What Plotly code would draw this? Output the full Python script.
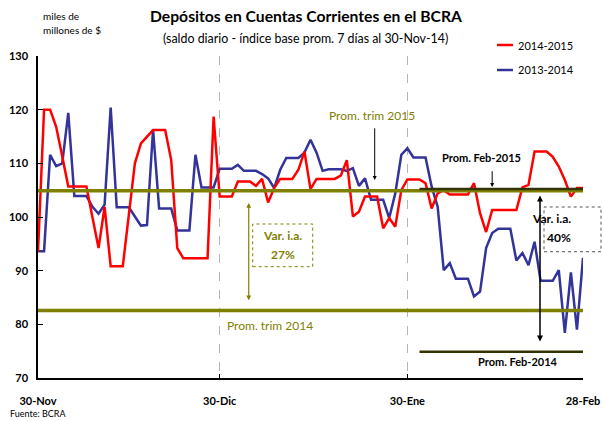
import plotly.graph_objects as go
import pandas as pd

# ---------------- data ----------------
dates = pd.date_range("2014-11-30", "2015-02-28", freq="D")

dep_2014_2015 = [
    93.5, 120, 120, 116.8, 111.3, 105.7, 105.7, 105.7, 105.7, 99.9,
    94.2, 101.9, 90.8, 90.8, 90.8, 100.4, 110, 113.7, 115, 116.2,
    116.2, 116.2, 110.6, 94.2, 92.3, 92.3, 92.3, 92.3, 92.3, 118.7,
    103.8, 103.8, 103.8, 106.6, 106.6, 106.6, 105.8, 107.1, 102.7, 105.4,
    107.1, 107.1, 107.1, 108.8, 112.2, 105.2, 107.1, 107.1, 107.1, 107.1,
    107.7, 110.6, 100.1, 101, 103.8, 103.8, 103.8, 97.9, 99.8, 98.2,
    105, 107, 107, 107, 106.3, 101.6, 104.4, 105, 104.2, 104.2,
    104.2, 104.2, 106.3, 100.7, 97.2, 101.3, 101.3, 101.3, 101.3, 101.3,
    105.5, 106, 112.2, 112.2, 112.2, 111.2, 109.4, 106.9, 103.8, 105.4,
    105.4,
]

dep_2013_2014 = [
    93.6, 93.6, 111.6, 109.5, 110, 119.4, 103.9, 103.9, 103.9, 101.9,
    100.6, 102.3, 120.4, 101.8, 101.8, 101.8, 100.1, 98.4, 98.5, 116.3,
    101.6, 101.6, 101.6, 97.5, 97.5, 97.5, 111.6, 105.5, 105.5, 105.5,
    109, 109, 109, 109.7, 108.6, 108.6, 108.6, 108, 107.2, 105.4,
    108.8, 111, 111, 111, 112, 114.4, 112, 108.6, 108.9, 108.9,
    108.9, 108.6, 109.1, 105.8, 107.2, 103.2, 103.2, 103.2, 99.8, 104.4,
    111.6, 112.8, 111.1, 111.1, 111.1, 105.7, 101.9, 90.1, 91.4, 88.5,
    88.5, 88.5, 85.2, 86.1, 94.2, 97, 97.8, 97.8, 97.8, 91.9,
    93.3, 91, 95.4, 88.1, 88.1, 88.1, 90.1, 78.4, 89.7, 79,
    92.4,
]

series_names = ["2014-2015", "2013-2014"]

prom_trim_2015 = 104.9
prom_trim_2014 = 82.6
prom_feb_2015 = 105.2
prom_feb_2014 = 74.9
feb_start = "2015-02-01"

var_ia_trim = "27%"
var_ia_feb = "40%"

tick_dates = ["2014-11-30", "2014-12-30", "2015-01-30", "2015-02-28"]
tick_labels = ["30-Nov", "30-Dic", "30-Ene", "28-Feb"]
y_ticks = [70, 80, 90, 100, 110, 120, 130]

# ---------------- styling ----------------
RED = "#FF0000"
BLUE = "#333399"
OLIVE = "#808000"
DARK = "#333300"
FONT = "Lato"

start = pd.Timestamp("2014-11-30")


def d(day):
    return (start + pd.Timedelta(hours=day * 24)).strftime("%Y-%m-%d %H:%M")


W, H = 603, 421
L, R, T, B = 38, 20, 56, 43
pw, ph = W - L - R, H - T - B


def px(x):
    return (x - L) / pw


def py(y):
    return 1 - (y - T) / ph


fig = go.Figure()

fig.add_trace(go.Scatter(x=dates, y=dep_2013_2014, mode="lines",
                         line=dict(color=BLUE, width=2.5), name=series_names[1]))
fig.add_trace(go.Scatter(x=dates, y=dep_2014_2015, mode="lines",
                         line=dict(color=RED, width=2.5), name=series_names[0]))

# reference lines
fig.add_trace(go.Scatter(x=[dates[0], dates[-1]], y=[prom_trim_2015] * 2, mode="lines",
                         line=dict(color=OLIVE, width=3.5)))
fig.add_trace(go.Scatter(x=[dates[0], dates[-1]], y=[prom_trim_2014] * 2, mode="lines",
                         line=dict(color=OLIVE, width=3.5)))
fig.add_trace(go.Scatter(x=[feb_start, dates[-1]], y=[prom_feb_2015] * 2, mode="lines",
                         line=dict(color=DARK, width=2.5)))
fig.add_trace(go.Scatter(x=[feb_start, dates[-1]], y=[prom_feb_2014] * 2, mode="lines",
                         line=dict(color=DARK, width=2.5)))

ann = []
# title / subtitle
ann.append(dict(x=306, y=16, text="<b>Depósitos en Cuentas Corrientes en el BCRA</b>",
                showarrow=False, font=dict(size=15.7, color="black", family=FONT)))
ann.append(dict(x=305, y=38, text="(saldo diario - índice base prom. 7 días al 30-Nov-14)",
                showarrow=False, font=dict(size=12.4, color="black", family=FONT)))
ann.append(dict(x=41, y=16, text="miles de", showarrow=False, font=dict(size=10, color="black", family=FONT)))
ann.append(dict(x=41, y=30, text="millones de $", showarrow=False, font=dict(size=10, color="black", family=FONT)))
ann.append(dict(x=8, y=413, text="Fuente: BCRA", showarrow=False, xanchor="left",
                font=dict(size=9, color="black", family=FONT)))
# legend
ann.append(dict(x=516, y=45, text=series_names[0], showarrow=False, xanchor="left",
                font=dict(size=11, color="black", family=FONT)))
ann.append(dict(x=516, y=70, text=series_names[1], showarrow=False, xanchor="left",
                font=dict(size=11, color="black", family=FONT)))
for a in ann:
    a["xref"] = "paper"
    a["yref"] = "paper"
    a["x"] = px(a["x"])
    a["y"] = py(a["y"])
    a.setdefault("yanchor", "middle")

data_ann = [
    dict(x=d(55.2), y=119.0, text="Prom. trim 2015", showarrow=False,
         font=dict(size=12, color=OLIVE, family=FONT)),
    dict(x=d(55.6), y=106.9, ax=d(55.6), ay=116.8, axref="x", ayref="y", text="",
         showarrow=True, arrowhead=2, arrowsize=0.8, arrowwidth=1, arrowcolor="black"),
    dict(x=d(30.8), y=79.7, text="Prom. trim 2014", showarrow=False, xanchor="left",
         font=dict(size=12, color=OLIVE, family=FONT)),
    dict(x=d(34.8), y=102.6, ax=d(34.8), ay=84.2, axref="x", ayref="y", text="",
         showarrow=True, arrowhead=2, startarrowhead=2, arrowside="end+start", arrowsize=0.8,
         startarrowsize=0.8, arrowwidth=1.2, arrowcolor=OLIVE),
    dict(x=d(40.4), y=96.5, text="<b>Var. i.a.</b>", showarrow=False,
         font=dict(size=12, color=OLIVE, family=FONT)),
    dict(x=d(40.4), y=93.1, text=f"<b>{var_ia_trim}</b>", showarrow=False,
         font=dict(size=12, color=OLIVE, family=FONT)),
    dict(x=d(73.3), y=111.0, text="<b>Prom. Feb-2015</b>", showarrow=False,
         font=dict(size=11, color="black", family=FONT)),
    dict(x=d(75.0), y=105.6, ax=d(75.0), ay=108.8, axref="x", ayref="y", text="",
         showarrow=True, arrowhead=2, arrowsize=0.8, arrowwidth=1, arrowcolor="black"),
    dict(x=d(82.9), y=104.0, ax=d(82.9), ay=76.5, axref="x", ayref="y", text="",
         showarrow=True, arrowhead=2, startarrowhead=2, arrowside="end+start", arrowsize=0.8,
         startarrowsize=0.8, arrowwidth=1.5, arrowcolor="black"),
    dict(x=px(573), xref="paper", y=99.8, text="<b>Var. i.a.</b>", showarrow=False,
         font=dict(size=12, color="black", family=FONT)),
    dict(x=px(573), xref="paper", y=96.1, text=f"<b>{var_ia_feb}</b>", showarrow=False,
         font=dict(size=12, color="black", family=FONT)),
    dict(x=d(79.2), y=73.0, text="<b>Prom. Feb-2014</b>", showarrow=False,
         font=dict(size=11, color="black", family=FONT)),
]
ann += data_ann

shapes = [
    # legend samples
    dict(type="line", xref="paper", yref="paper", x0=px(497), x1=px(513),
         y0=py(45), y1=py(45), line=dict(color=RED, width=2.5)),
    dict(type="line", xref="paper", yref="paper", x0=px(497), x1=px(513),
         y0=py(70), y1=py(70), line=dict(color=BLUE, width=2.5)),
    # boxes
    dict(type="rect", xref="paper", yref="paper", x0=px(252.7), x1=px(312.7), y0=py(266.7), y1=py(224),
         line=dict(color=OLIVE, width=1, dash="dot"), fillcolor="white", layer="above"),
    dict(type="rect", xref="paper", yref="paper", x0=px(544), x1=px(601), y0=py(251.7), y1=py(207),
         line=dict(color="#555555", width=1, dash="dot"), fillcolor="white", layer="above"),
]

fig.update_layout(
    width=W, height=H,
    margin=dict(l=L, r=R, t=T, b=B),
    paper_bgcolor="white", plot_bgcolor="white",
    showlegend=False,
    font=dict(family=FONT, color="black"),
    annotations=ann,
    shapes=shapes,
    xaxis=dict(
        type="date", range=[dates[0], dates[-1]],
        tickvals=tick_dates, ticktext=[f"<b>{t}</b>" for t in tick_labels],
        tickfont=dict(size=11, family=FONT, color="black"),
        ticks="inside", ticklen=4, tickcolor="black",
        showline=True, linecolor="black", linewidth=1.5,
        showgrid=True, gridcolor="#b5b5b5", griddash="dash", gridwidth=1,
        ticklabelstandoff=12, zeroline=False, fixedrange=True, automargin=False,
    ),
    yaxis=dict(
        range=[70, 130], tickvals=y_ticks, ticktext=[f"<b>{v}</b>" for v in y_ticks],
        tickfont=dict(size=11, family=FONT, color="black"),
        ticks="inside", ticklen=5, tickcolor="black",
        showline=True, linecolor="black", linewidth=1.5,
        showgrid=False, zeroline=False, ticklabelstandoff=6, fixedrange=True, automargin=False,
    ),
)

fig.write_html("out.html", config={"displayModeBar": False},
               post_script="document.body.style.margin='0';")
